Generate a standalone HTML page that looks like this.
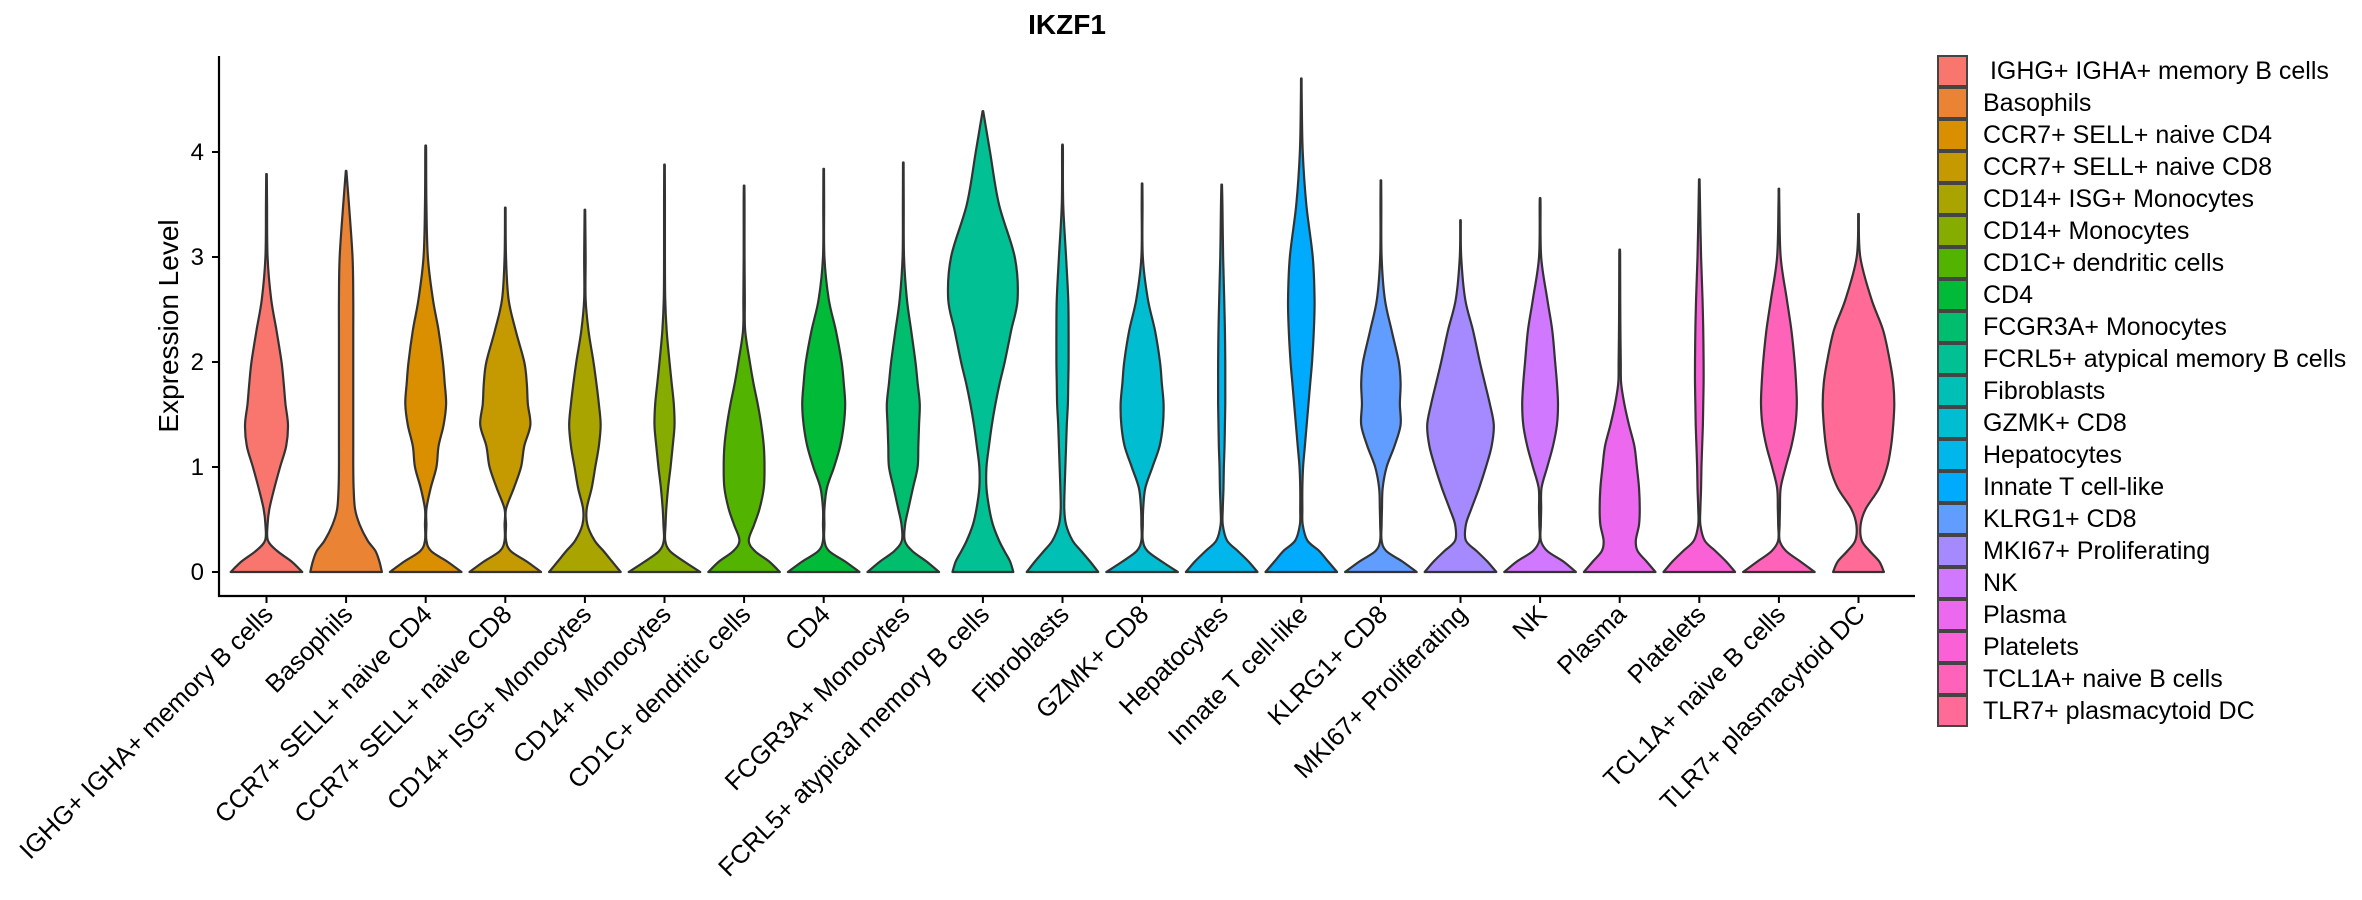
<!DOCTYPE html>
<html><head><meta charset="utf-8"><style>
html,body{margin:0;padding:0;background:#fff;}
svg{display:block;font-family:"Liberation Sans","DejaVu Sans",sans-serif;}
</style></head><body>
<svg id="chart" width="2362" height="900" viewBox="0 0 2362 900"></svg>
<script>
const categories = ["IGHG+ IGHA+ memory B cells","Basophils","CCR7+ SELL+ naive CD4","CCR7+ SELL+ naive CD8","CD14+ ISG+ Monocytes","CD14+ Monocytes","CD1C+ dendritic cells","CD4","FCGR3A+ Monocytes","FCRL5+ atypical memory B cells","Fibroblasts","GZMK+ CD8","Hepatocytes","Innate T cell-like","KLRG1+ CD8","MKI67+ Proliferating","NK","Plasma","Platelets","TCL1A+ naive B cells","TLR7+ plasmacytoid DC"];
const legendLabels = [" IGHG+ IGHA+ memory B cells","Basophils","CCR7+ SELL+ naive CD4","CCR7+ SELL+ naive CD8","CD14+ ISG+ Monocytes","CD14+ Monocytes","CD1C+ dendritic cells","CD4","FCGR3A+ Monocytes","FCRL5+ atypical memory B cells","Fibroblasts","GZMK+ CD8","Hepatocytes","Innate T cell-like","KLRG1+ CD8","MKI67+ Proliferating","NK","Plasma","Platelets","TCL1A+ naive B cells","TLR7+ plasmacytoid DC"];
const yTicks = [0,1,2,3,4];
const levels = [0,0.1,0.2,0.3,0.45,0.6,0.8,1.0,1.2,1.4,1.6,1.8,2.0,2.3,2.6,3.0,3.5,4.0,4.5];
const maxValues = [3.79,3.82,4.06,3.47,3.45,3.88,3.68,3.84,3.9,4.39,4.07,3.7,3.69,4.7,3.73,3.35,3.56,3.07,3.74,3.65,3.41];
const densities = [
[1,.7,.3,.04,.03,.08,.22,.38,.55,.6,.53,.48,.42,.28,.13,.03,.015,0,0],
[1,.93,.82,.6,.38,.25,.21,.2,.2,.2,.2,.2,.2,.2,.2,.18,.08,0,0],
[1,.6,.15,.02,.02,.02,.14,.3,.36,.5,.57,.53,.48,.36,.2,.06,.02,.01,0],
[1,.6,.15,.02,.02,.02,.24,.44,.53,.7,.63,.6,.53,.29,.09,.02,0,0,0],
[1,.76,.52,.27,.07,.05,.19,.29,.39,.44,.39,.32,.24,.1,.02,.02,0,0,0],
[1,.55,.15,.02,.03,.05,.1,.17,.23,.28,.26,.2,.14,.06,.02,.01,.01,0,0],
[1,.7,.3,.13,.28,.43,.55,.57,.55,.48,.38,.26,.16,.03,.02,.01,.01,0,0],
[1,.6,.15,.02,.02,.02,.09,.29,.46,.56,.6,.56,.5,.34,.14,.02,.01,0,0],
[1,.65,.25,.04,.05,.14,.27,.4,.42,.44,.46,.4,.34,.22,.1,.02,.01,0,0],
[.85,.76,.6,.45,.28,.18,.1,.1,.17,.25,.35,.47,.61,.79,.97,.89,.45,.2,0],
[1,.77,.52,.28,.1,.05,.06,.08,.1,.12,.15,.16,.17,.17,.16,.1,.02,.01,0],
[1,.55,.15,.02,.02,.03,.09,.29,.49,.58,.6,.55,.5,.36,.16,.02,.01,0,0],
[1,.75,.45,.15,.03,.03,.05,.06,.08,.09,.1,.1,.1,.09,.07,.04,.02,0,0],
[1,.75,.5,.17,.04,.03,.03,.05,.1,.15,.2,.25,.3,.35,.37,.32,.14,.04,.01],
[1,.6,.15,.02,.02,.03,.05,.16,.38,.55,.53,.55,.5,.3,.11,.02,.01,0,0],
[1,.75,.45,.15,.15,.3,.52,.71,.87,.93,.82,.68,.54,.35,.13,.02,0,0,0],
[1,.65,.2,.02,.02,.03,.04,.2,.36,.47,.5,.47,.42,.34,.2,.03,.01,0,0],
[1,.75,.5,.45,.54,.56,.54,.48,.41,.26,.13,.04,.03,.02,.015,.01,0,0,0],
[1,.75,.45,.15,.03,.03,.05,.06,.08,.1,.11,.12,.12,.11,.09,.05,.02,0,0],
[1,.6,.2,.02,.02,.03,.05,.19,.35,.46,.5,.48,.44,.35,.22,.05,.01,0,0],
[.71,.58,.31,.09,.06,.2,.58,.8,.91,.97,1,.97,.88,.69,.36,.05,0,0,0]
];

const NS = "http://www.w3.org/2000/svg";
const svg = document.getElementById('chart');
const X0 = 266.5, XSTEP = 79.6, HALFW = 35.8;
const Y0 = 572, YUNIT = 105;
const AX_L = 219, AX_B = 596, AX_T = 56, AX_R = 1915;
function xPos(i){ return X0 + i*XSTEP; }
function yPos(v){ return Y0 - v*YUNIT; }
function mk(tag, attrs){ const e = document.createElementNS(NS, tag); for (const k in attrs) e.setAttribute(k, attrs[k]); return e; }

function hcl(h){
  const L=65, C=100, hr=h*Math.PI/180;
  const u=C*Math.cos(hr), v=C*Math.sin(hr);
  const Xn=95.047,Yn=100,Zn=108.883;
  const un=4*Xn/(Xn+15*Yn+3*Zn), vn=9*Yn/(Xn+15*Yn+3*Zn);
  const Y=Yn*Math.pow((L+16)/116,3);
  const up=u/(13*L)+un, vp=v/(13*L)+vn;
  const X=Y*9*up/(4*vp), Z=Y*(12-3*up-20*vp)/(4*vp);
  const x=X/100,y=Y/100,z=Z/100;
  let r=3.2404542*x-1.5371385*y-0.4985314*z;
  let g=-0.9692660*x+1.8760108*y+0.0415560*z;
  let b=0.0556434*x-0.2040259*y+1.0572252*z;
  const gm=c=>{c=c<=0.0031308?12.92*c:1.055*Math.pow(c,1/2.4)-0.055;return Math.round(Math.max(0,Math.min(1,c))*255);};
  return 'rgb('+gm(r)+','+gm(g)+','+gm(b)+')';
}
const colors = categories.map((_,i)=>hcl(15+i*360/categories.length));

const title = mk('text',{x:1067,y:34,'text-anchor':'middle','font-size':28,'font-weight':'bold',fill:'#000'});
title.textContent='IKZF1';


svg.appendChild(title);

const yt = mk('text',{x:0,y:0,transform:'translate(178,326) rotate(-90)','text-anchor':'middle','font-size':28,fill:'#000'});
yt.textContent='Expression Level';


svg.appendChild(yt);

const vg = mk('g',{});


svg.appendChild(vg);
function smooth(pts){
  let d='';
  for(let i=0;i<pts.length-1;i++){
    const p0=pts[Math.max(0,i-1)],p1=pts[i],p2=pts[i+1],p3=pts[Math.min(pts.length-1,i+2)];
    const c1=[p1[0]+(p2[0]-p0[0])/6,p1[1]+(p2[1]-p0[1])/6];
    const c2=[p2[0]-(p3[0]-p1[0])/6,p2[1]-(p3[1]-p1[1])/6];
    d+=' C'+c1[0].toFixed(2)+','+c1[1].toFixed(2)+' '+c2[0].toFixed(2)+','+c2[1].toFixed(2)+' '+p2[0].toFixed(2)+','+p2[1].toFixed(2);
  }
  return d;
}
categories.forEach((c,i)=>{
  const cx=xPos(i), top=maxValues[i], dens=densities[i];
  const prof=[];
  levels.forEach((lv,j)=>{ if(lv<top-0.05) prof.push([lv,Math.max(dens[j],0.012)]); });
  prof.push([top,0.008]);
  const right=prof.map(p=>[cx+p[1]*HALFW,yPos(p[0])]);
  const left=prof.slice().reverse().map(p=>[cx-p[1]*HALFW,yPos(p[0])]);
  let d='M'+cx.toFixed(2)+','+yPos(0)+' L'+right[0][0].toFixed(2)+','+right[0][1].toFixed(2);
  d+=smooth(right);
  d+=' L'+left[0][0].toFixed(2)+','+left[0][1].toFixed(2);
  d+=smooth(left);
  d+=' Z';
  const p=mk('path',{d:d,fill:colors[i],stroke:'#333333','stroke-width':2.2,'stroke-linejoin':'round'});
  
  
  vg.appendChild(p);
});

const ax=mk('path',{d:'M'+AX_L+','+AX_T+' L'+AX_L+','+AX_B+' L'+AX_R+','+AX_B,fill:'none',stroke:'#000','stroke-width':2.2});


svg.appendChild(ax);
yTicks.forEach(v=>{
  const y=yPos(v);
  const t=mk('line',{x1:AX_L-7,x2:AX_L,y1:y,y2:y,stroke:'#000','stroke-width':2});
  
  
  svg.appendChild(t);
  const l=mk('text',{x:AX_L-15,y:y+8,'text-anchor':'end','font-size':24,fill:'#000'});
  l.textContent=String(v);
  
  
  svg.appendChild(l);
});
categories.forEach((c,i)=>{
  const x=xPos(i);
  const t=mk('line',{x1:x,x2:x,y1:AX_B,y2:AX_B+7,stroke:'#000','stroke-width':2});
  
  
  svg.appendChild(t);
  const l=mk('text',{x:0,y:0,transform:'translate('+(x+8)+','+(AX_B+20)+') rotate(-45)','text-anchor':'end','font-size':25.5,fill:'#000'});
  l.textContent=c;
  
  
  svg.appendChild(l);
});

const lg=mk('g',{});


svg.appendChild(lg);
legendLabels.forEach((lab,i)=>{
  const y=55+i*32;
  const r=mk('rect',{x:1938,y:y+1,width:29,height:30,fill:colors[i],stroke:'#444','stroke-width':2});
  
  
  lg.appendChild(r);
  const t=mk('text',{x:1983,y:y+24,'font-size':25,fill:'#000'});
  t.setAttribute('style','white-space:pre');
  t.textContent=lab;
  
  
  lg.appendChild(t);
});
</script>
</body></html>
